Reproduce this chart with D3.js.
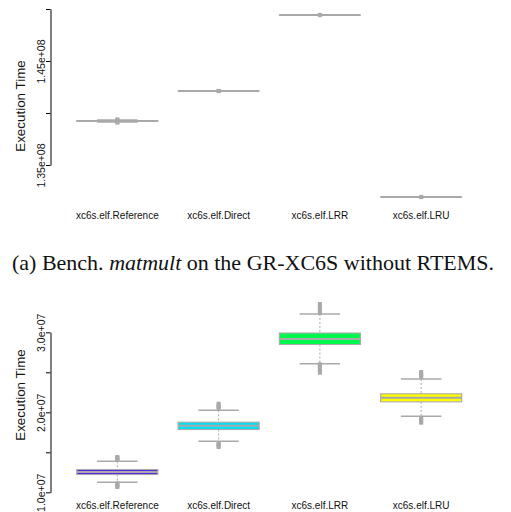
<!DOCTYPE html>
<html><head><meta charset="utf-8">
<script src="https://cdn.jsdelivr.net/npm/d3@7/dist/d3.min.js"></script>
<style>body{margin:0;background:#fff}svg{display:block}</style></head>
<body>
<svg id="c" width="511" height="512"></svg>
<script>
const categories = ["xc6s.elf.Reference", "xc6s.elf.Direct", "xc6s.elf.LRR", "xc6s.elf.LRU"];
const boxColors = ["#5a22e8", "#00e2f6", "#00f84c", "#ffff00"];

// Panel (a): matmult without RTEMS
const topLow     = [1.39134e8, 1.42110e8, 1.49413e8, 1.31913e8];
const topQ1      = [1.39192e8, 1.42113e8, 1.49419e8, 1.31919e8];
const topMedian  = [1.39230e8, 1.42115e8, 1.49423e8, 1.31923e8];
const topQ3      = [1.39268e8, 1.42117e8, 1.49427e8, 1.31927e8];
const topHigh    = [1.39326e8, 1.42120e8, 1.49433e8, 1.31933e8];
const topOutliers = [
  [1.39090e8, 1.39110e8, 1.39350e8, 1.39370e8],
  [1.42105e8, 1.42125e8],
  [1.49413e8, 1.49433e8],
  [1.31913e8, 1.31933e8]
];
const topTicks = [1.35e8, 1.40e8, 1.45e8, 1.50e8];
const topTickLabels = ["1.35e+08", "", "1.45e+08", ""];

// Panel (b)
const botLow     = [1.1250e7, 1.6375e7, 2.6075e7, 1.9500e7];
const botQ1      = [1.2220e7, 1.7850e7, 2.8475e7, 2.1310e7];
const botMedian  = [1.2540e7, 1.8310e7, 2.9160e7, 2.1825e7];
const botQ3      = [1.2850e7, 1.8760e7, 2.9910e7, 2.2310e7];
const botHigh    = [1.3875e7, 2.0250e7, 3.2290e7, 2.4160e7];
const botOutliers = [
  [1.066e7, 1.08e7, 1.095e7, 1.11e7, 1.404e7, 1.42e7, 1.43e7, 1.441e7],
  [1.566e7, 1.58e7, 1.60e7, 1.616e7, 2.054e7, 2.07e7, 2.09e7, 2.107e7],
  [2.495e7, 2.52e7, 2.55e7, 2.58e7, 2.60e7, 3.241e7, 3.27e7, 3.30e7, 3.33e7, 3.354e7],
  [1.870e7, 1.89e7, 1.91e7, 1.929e7, 2.441e7, 2.46e7, 2.48e7, 2.504e7]
];
const botTicks = [1.0e7, 1.5e7, 2.0e7, 2.5e7, 3.0e7];
const botTickLabels = ["1.0e+07", "", "2.0e+07", "", "3.0e+07"];

const yTitle = "Execution Time";

const svg = d3.select("#c");
svg.append("rect").attr("width", 511).attr("height", 512).attr("fill", "#fff");

const GREY = "#a9a9a9";
const x = d3.scaleLinear().domain([0.34, 4.66]).range([50.5, 488]);
const BW = 0.8;

function panel(cfg) {
  const y = d3.scaleLinear().domain([cfg.ticks[0], cfg.ticks[cfg.ticks.length - 1]]).range(cfg.yRange);
  const g = svg.append("g");
  categories.forEach((c, i) => {
    const cx = x(i + 1);
    const x0 = x(i + 1 - BW / 2), x1 = x(i + 1 + BW / 2);
    const c0 = x(i + 1 - BW / 4), c1 = x(i + 1 + BW / 4);
    g.append("line").attr("x1", cx).attr("x2", cx).attr("y1", y(cfg.hi[i])).attr("y2", y(cfg.q3[i]))
      .attr("stroke", GREY).attr("stroke-width", 1).attr("stroke-dasharray", "2,2");
    g.append("line").attr("x1", cx).attr("x2", cx).attr("y1", y(cfg.q1[i])).attr("y2", y(cfg.lo[i]))
      .attr("stroke", GREY).attr("stroke-width", 1).attr("stroke-dasharray", "2,2");
    [cfg.hi[i], cfg.lo[i]].forEach(v => {
      g.append("line").attr("x1", c0).attr("x2", c1).attr("y1", y(v)).attr("y2", y(v))
        .attr("stroke", GREY).attr("stroke-width", 1.5);
    });
    const yt = y(cfg.q3[i]), yb = y(cfg.q1[i]);
    g.append("rect").attr("x", x0).attr("y", yt).attr("width", x1 - x0).attr("height", Math.max(0, yb - yt))
      .attr("fill", boxColors[i]).attr("stroke", GREY).attr("stroke-width", 1.1);
    g.append("line").attr("x1", x0).attr("x2", x1).attr("y1", y(cfg.med[i])).attr("y2", y(cfg.med[i]))
      .attr("stroke", GREY).attr("stroke-width", 1.9);
    cfg.out[i].forEach(v => {
      g.append("rect").attr("x", cx - 2).attr("y", y(v) - 2).attr("width", 4).attr("height", 4).attr("fill", GREY);
    });
    g.append("text").attr("x", cx).attr("y", cfg.labelY).attr("text-anchor", "middle")
      .attr("font-family", "Liberation Sans, Arial, sans-serif").attr("font-size", 10).attr("fill", "#111").text(c);
  });
  const ax = svg.append("g").attr("transform", "translate(50.5,0)")
    .call(d3.axisLeft(y).tickValues(cfg.ticks).tickFormat((d, i) => cfg.labels[i]).tickSize(4.5).tickSizeOuter(0));
  ax.select(".domain").attr("stroke", "#000");
  ax.selectAll(".tick line").attr("stroke", "#000");
  ax.selectAll(".tick text").attr("transform", "rotate(-90)").attr("x", 0).attr("y", -5.5).attr("dy", 0)
    .attr("text-anchor", "middle").attr("fill", "#111")
    .attr("font-family", "Liberation Sans, Arial, sans-serif").attr("font-size", 10.5);
  ax.attr("font-family", null).attr("font-size", null);
  svg.append("text").attr("transform", `translate(${cfg.titleX},${cfg.titleY}) rotate(-90)`)
    .attr("text-anchor", "middle").attr("font-family", "Liberation Sans, Arial, sans-serif")
    .attr("font-size", 13.4).attr("fill", "#111").text(yTitle);
}

panel({ ticks: topTicks, labels: topTickLabels, yRange: [165, 9],
  lo: topLow, q1: topQ1, med: topMedian, q3: topQ3, hi: topHigh, out: topOutliers,
  labelY: 219, titleX: 25, titleY: 106 });
panel({ ticks: botTicks, labels: botTickLabels, yRange: [492.3, 332.3],
  lo: botLow, q1: botQ1, med: botMedian, q3: botQ3, hi: botHigh, out: botOutliers,
  labelY: 509, titleX: 24.5, titleY: 395 });

const cap = svg.append("text").attr("x", 12).attr("y", 270)
  .attr("font-family", "Liberation Serif, Times New Roman, serif").attr("font-size", 22).attr("fill", "#111");
cap.append("tspan").text("(a) Bench. ");
cap.append("tspan").attr("font-style", "italic").text("matmult");
cap.append("tspan").text(" on the GR-XC6S without RTEMS.");
</script>
</body></html>
